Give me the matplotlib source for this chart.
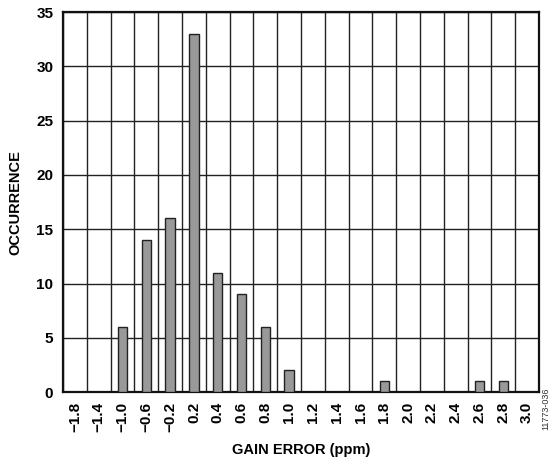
import numpy as np
import matplotlib
matplotlib.use("Agg")
import matplotlib.pyplot as plt
from matplotlib.ticker import FixedLocator

plt.rcParams['font.family'] = ['Liberation Sans', 'DejaVu Sans']

bins = ['\u22121.8', '\u22121.4', '\u22121.0', '\u22120.6', '\u22120.2',
        '0.2', '0.4', '0.6', '0.8', '1.0', '1.2', '1.4', '1.6', '1.8',
        '2.0', '2.2', '2.4', '2.6', '2.8', '3.0']
counts = [0, 0, 6, 14, 16, 33, 11, 9, 6, 2, 0, 0, 0, 1, 0, 0, 0, 1, 1, 0]

fig = plt.figure(figsize=(5.6, 4.62), dpi=100)
ax = fig.add_axes([0.1125, 0.1515, 0.85, 0.822])

x = np.arange(len(bins))
ax.bar(x, counts, width=0.4, color='#999999', edgecolor='#222222',
       linewidth=1.0, zorder=3)

ax.set_xlim(-0.5, len(bins) - 0.5)
ax.set_ylim(0, 35)
ax.set_yticks(np.arange(0, 36, 5))
ax.set_xticks(x)
ax.set_xticklabels(bins, rotation=90, fontweight='bold', fontsize=11)
ax.xaxis.set_minor_locator(FixedLocator(np.arange(-0.5, len(bins), 1.0)))
for lbl in ax.get_yticklabels():
    lbl.set_fontweight('bold')
    lbl.set_fontsize(11)

ax.grid(True, which='minor', axis='x', color='#222222', linewidth=1.0, zorder=1)
ax.grid(True, which='major', axis='y', color='#222222', linewidth=1.0, zorder=1)
ax.tick_params(which='both', length=0, pad=7)

for s in ax.spines.values():
    s.set_linewidth(1.6)
    s.set_color('#111111')

ax.set_xlabel('GAIN ERROR (ppm)', fontweight='bold', fontsize=10.5, labelpad=8)
ax.set_ylabel('OCCURRENCE', fontweight='bold', fontsize=10.5, labelpad=10)

fig.text(0.975, 0.115, '11773-036', rotation=90, fontsize=6.5,
         ha='center', va='center', color='#333333')

fig.savefig('out.png', dpi=100)
